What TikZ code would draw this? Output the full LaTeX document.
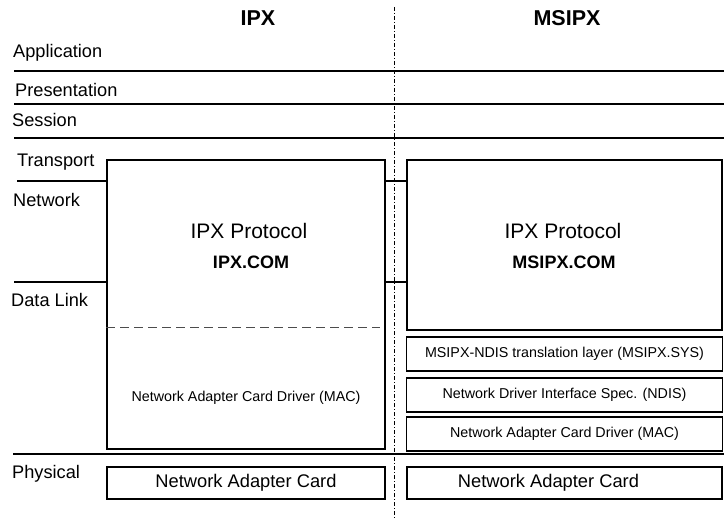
\documentclass[tikz,border=0pt]{standalone}
\usepackage{fontspec}
\setmainfont{Liberation Sans}
\usetikzlibrary{positioning}
\tikzset{
  layerLbl/.style={anchor=base west, inner sep=0pt, font=\fontsize{18.2}{20}\selectfont},
  titleLbl/.style={anchor=base, inner sep=0pt, font=\bfseries\fontsize{21.5}{24}\selectfont},
  protoLbl/.style={anchor=base, inner sep=0pt, font=\fontsize{21}{24}\selectfont},
  fileLbl/.style={anchor=base, inner sep=0pt, font=\bfseries\fontsize{18}{20}\selectfont},
  smallLbl/.style={font=\fontsize{14.3}{16}\selectfont},
  cardLbl/.style={font=\fontsize{18.3}{20}\selectfont},
  frame/.style={draw, line width=1.7pt, inner sep=0pt},
  layerBox/.style={frame, minimum width=316pt, minimum height=34pt, smallLbl},
  rule/.style={line width=1.9pt},
  divider/.style={line width=0.8pt, dash pattern=on 4pt off 2pt on 1pt off 2pt},
  split/.style={line width=0.9pt, black!70, dash pattern=on 9pt off 5pt}
}

\begin{document}
\begin{tikzpicture}[x=1pt, y=-1pt]
  \useasboundingbox (0,0) rectangle (724,519);

  % column titles
  \node[titleLbl] (tIpx) at (258,26) {IPX};
  \node[titleLbl] (tMsipx) at (567,26) {MSIPX};

  % OSI layer names
  \node[layerLbl] (lApp) at (13,58) {Application};
  \node[layerLbl] (lPres) at (15,96) {Presentation};
  \node[layerLbl] (lSess) at (12,127) {Session};
  \node[layerLbl] (lTrans) at (17,167) {Transport};
  \node[layerLbl] (lNet) at (13,207) {Network};
  \node[layerLbl] (lLink) at (11,306) {Data Link};
  \node[layerLbl] (lPhys) at (12,478) {Physical};

  % IPX stack
  \node[frame, minimum width=278pt, minimum height=289pt] (ipx) at (246,304.5) {};
  \node[protoLbl] (ipxProto) at (249,238) {IPX Protocol};
  \node[fileLbl] (ipxCom) at (251,268) {IPX.COM};
  \node[smallLbl] (ipxMac) at (246,398) {Network Adapter Card Driver (MAC)};
  \node[frame, minimum width=278pt, minimum height=32pt, cardLbl] (cardL) at (246,483) {Network Adapter Card};

  % MSIPX stack
  \node[frame, minimum width=315pt, minimum height=170pt] (msipx) at (564.5,245) {};
  \node[protoLbl] (msProto) at (563,238) {IPX Protocol};
  \node[fileLbl] (msCom) at (564,268) {MSIPX.COM};
  \node[layerBox] (msSys) at (564.5,354) {MSIPX-NDIS translation layer (MSIPX.SYS)};
  \node[layerBox] (msNdis) at (564.5,395) {Network Driver Interface Spec. (NDIS)};
  \node[layerBox] (msMac) at (564.5,434) {Network Adapter Card Driver (MAC)};
  \node[frame, minimum width=315pt, minimum height=32pt] (cardR) at (564.5,483) {};
  \node[cardLbl] (cardRTxt) at ([xshift=-16pt]cardR.center) {Network Adapter Card};

  % layer boundaries
  \coordinate (appL) at (14,71);   \coordinate (appR) at (724,71);
  \coordinate (presL) at (14,104); \coordinate (presR) at (724,104);
  \coordinate (sessL) at (14,138); \coordinate (sessR) at (724,138);
  \coordinate (transL) at (17,181);
  \coordinate (linkL) at (14,282);
  \coordinate (physL) at (13,454); \coordinate (physR) at (724,454);
  \draw[rule] (appL) -- (appR);
  \draw[rule] (presL) -- (presR);
  \draw[rule] (sessL) -- (sessR);
  \draw[rule] (physL) -- (physR);
  \draw[rule] (transL) -- (transL -| ipx.west);
  \draw[rule] (linkL) -- (linkL -| ipx.west);
  \draw[rule] (transL -| ipx.east) -- (transL -| msipx.west);
  \draw[rule] (linkL -| ipx.east) -- (linkL -| msipx.west);

  % MAC / protocol split in IPX box
  \coordinate (splitR) at (380,327);
  \draw[split] (splitR -| ipx.west) -- (splitR);

  % divider between the two columns
  \coordinate (divTop) at (394,7);
  \coordinate (divBot) at (394,519);
  \draw[divider] (divTop) -- (divBot);

\end{tikzpicture}
\end{document}
